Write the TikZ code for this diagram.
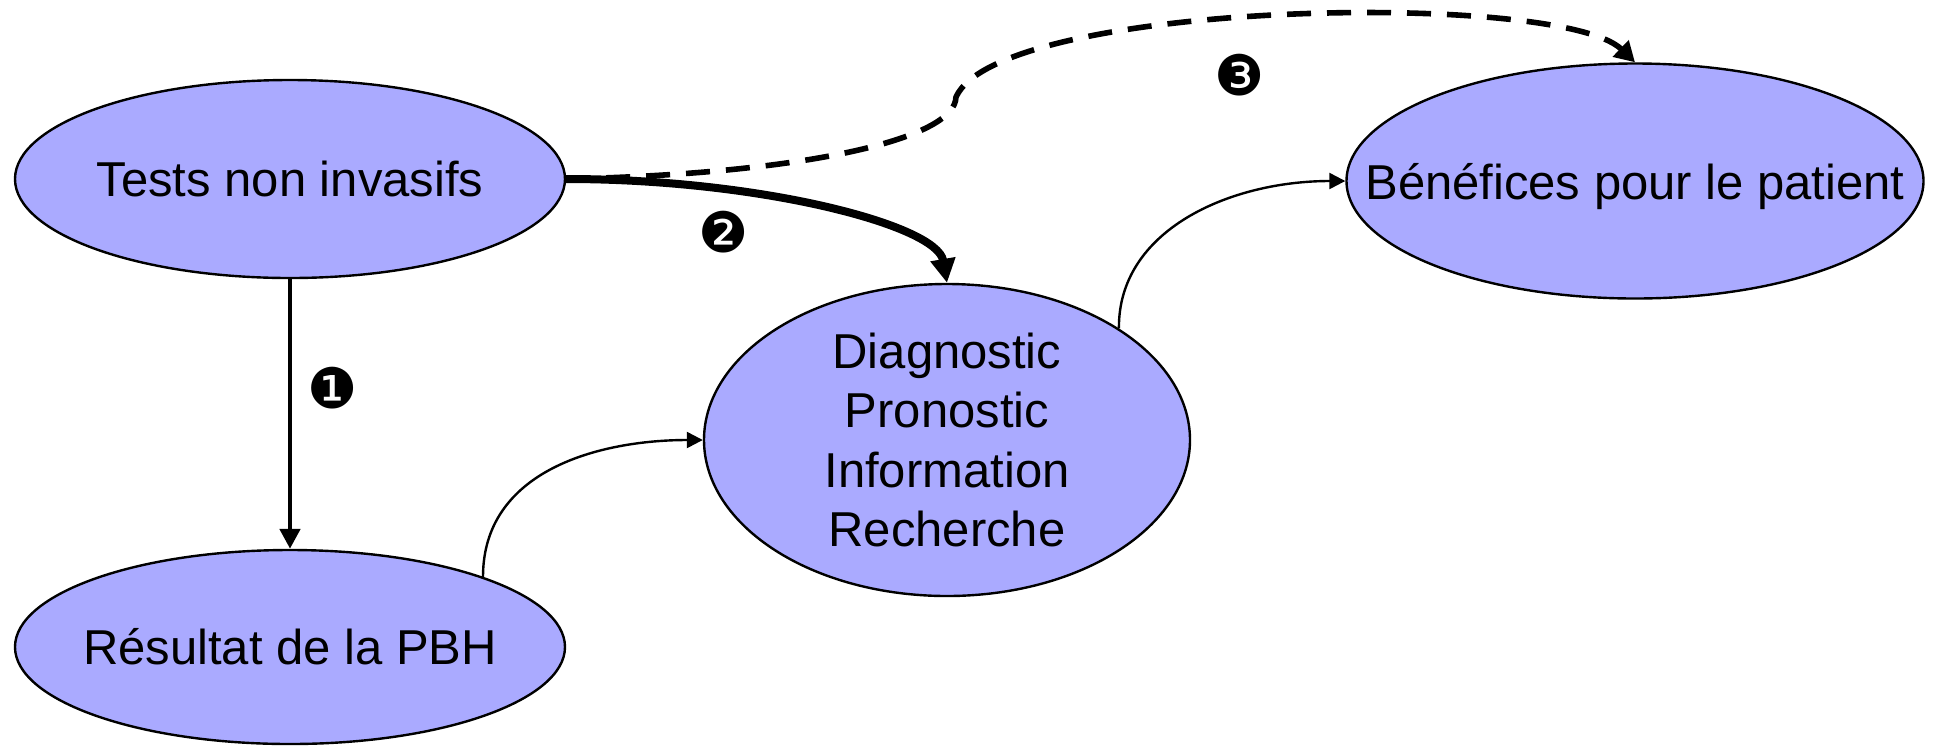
\documentclass[tikz,border=0pt]{standalone}
\usepackage{fontspec}
\setmainfont{Liberation Sans}
\newfontfamily\dejavu{DejaVu Sans}
\usetikzlibrary{arrows.meta,shapes.geometric}
\definecolor{ellfill}{RGB}{170,170,255}
\begin{document}
\begin{tikzpicture}[x=0.5pt,y=-0.5pt,
  ell/.style={ellipse,draw=black,line width=1.2pt,fill=ellfill,inner sep=0pt},
  txt/.style={font=\fontsize{24.5}{29.75}\selectfont,align=center,inner sep=0pt},
  num/.style={font=\dejavu\fontsize{28}{28}\selectfont,inner sep=0pt},
  thinarrow/.style={line width=1.2pt,-{Triangle[length=8pt,width=8pt]}},
  vertarrow/.style={line width=2.4pt,-{Triangle[length=10pt,width=10pt]}},
  thickarrow/.style={line width=4pt,-{Triangle[length=12pt,width=12pt]}},
  dasharrow/.style={line width=2.8pt,dash pattern=on 12pt off 8pt,-{Triangle[length=10pt,width=11pt]}}]
\useasboundingbox (0,0) rectangle (1934,746);

\node[ell,minimum width=275pt,minimum height=99pt] (tests) at (290,179) {};
\node[txt] (testsT) at (tests.center) {Tests non invasifs};

\node[ell,minimum width=275pt,minimum height=97pt] (res) at (290,647) {};
\node[txt] (resT) at (res.center) {Résultat de la PBH};

\node[ell,minimum width=243pt,minimum height=156pt] (diag) at (947,440) {};
\node[txt] (diagT) at (diag.center) {Diagnostic\\Pronostic\\Information\\Recherche};

\node[ell,minimum width=288.5pt,minimum height=117.5pt] (ben) at (1635,181) {};
\node[txt,text depth=0pt] (benT) at (ben.center) {Bénéfices pour le patient};

\draw[vertarrow] (tests.south) -- (res.north);
\draw[thickarrow] (tests.east) .. controls (760,179) and (937,225) .. (diag.north);
\draw[dasharrow] (tests.east) .. controls (800,174) and (955,140) .. (956,97)
   .. controls (1000,0) and (1560,-10) .. (ben.north);
\draw[thinarrow] (res.20) .. controls (483,470) and (600,440) .. (diag.west);
\draw[thinarrow] (diag.33) .. controls (1118,230) and (1230,181) .. (ben.west);

\node[num] (n1) at (333,388) {❶};
\node[num] (n2) at (724,232) {❷};
\node[num] (n3) at (1240,75) {❸};
\end{tikzpicture}
\end{document}
